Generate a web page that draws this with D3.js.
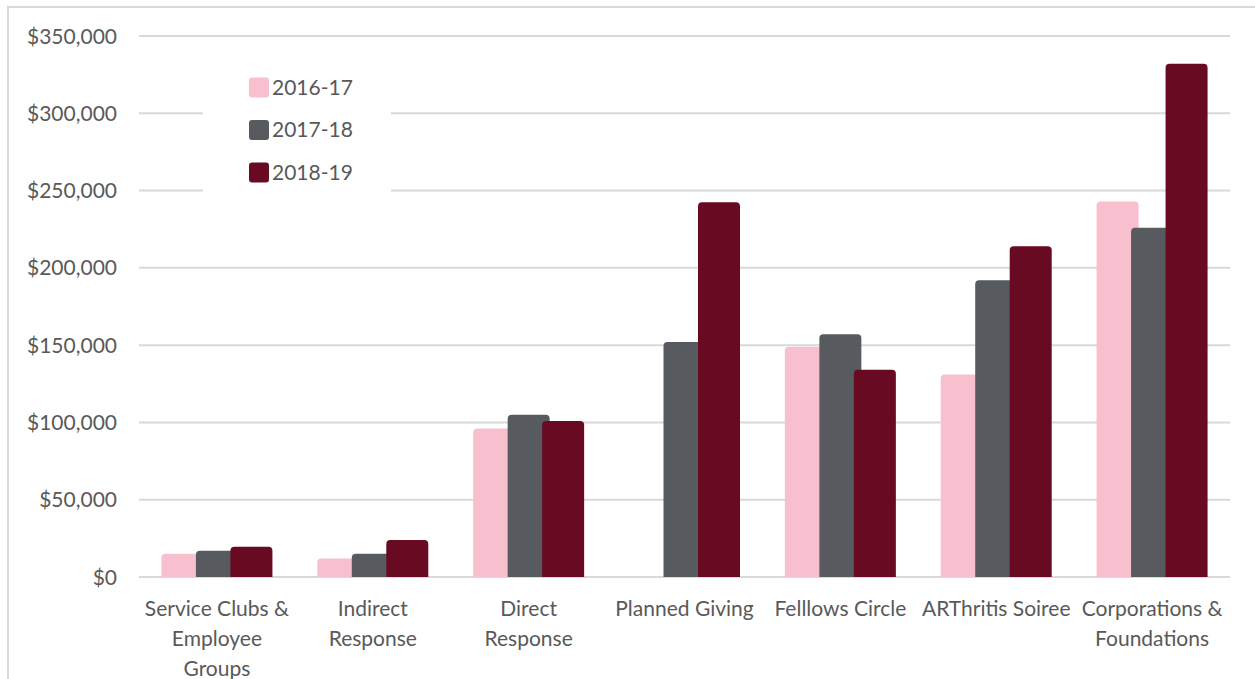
<!DOCTYPE html>
<html><head><meta charset="utf-8">
<script src="https://cdn.jsdelivr.net/npm/d3@7"></script>
<style>html,body{margin:0;padding:0;background:#fff;}svg{display:block;}</style>
</head><body>
<svg id="chart" width="1255" height="679"></svg>
<script>
const categories = ["Service Clubs & Employee Groups","Indirect Response","Direct Response","Planned Giving","Felllows Circle","ARThritis Soiree","Corporations & Foundations"];
const categoryLines = [["Service Clubs &","Employee","Groups"],["Indirect","Response"],["Direct","Response"],["Planned Giving"],["Felllows Circle"],["ARThritis Soiree"],["Corporations &","Foundations"]];
const seriesNames = ["2016-17","2017-18","2018-19"];
const v2016 = [15000, 12000, 96000, 0, 149000, 131000, 243000];
const v2017 = [17000, 15000, 105000, 152000, 157000, 192000, 226000];
const v2018 = [19500, 24000, 101000, 242500, 134000, 214000, 332000];
const yTicks = [0, 50000, 100000, 150000, 200000, 250000, 300000, 350000];
const colors = ["#F8C0CF", "#575B5F", "#680A22"];

const series = [v2016, v2017, v2018];
const svg = d3.select("#chart");
const font = "Lato, 'Open Sans', sans-serif";
const textColor = "#595959";

// outer border
svg.append("rect").attr("x", 8).attr("y", 7).attr("width", 1260).attr("height", 690)
  .attr("fill", "#fff").attr("stroke", "#D9D9D9").attr("stroke-width", 2);

const x = d3.scaleBand().domain(categories).range([139, 1230]).padding(0);
const y = d3.scaleLinear().domain([0, 350000]).range([577, 36]);

// gridlines
svg.append("g").selectAll("line").data(yTicks).join("line")
  .attr("x1", 139).attr("x2", 1230)
  .attr("y1", d => y(d)).attr("y2", d => y(d))
  .attr("stroke", "#D9D9D9").attr("stroke-width", 2);

// y axis labels
const yAxis = d3.axisLeft(y).tickValues(yTicks).tickSize(0).tickPadding(0)
  .tickFormat(d => "$" + d3.format(",")(d));
const yg = svg.append("g").attr("transform", "translate(117,0)").call(yAxis);
yg.select(".domain").remove();
yg.selectAll("text").attr("font-family", font).attr("font-size", 21).attr("fill", textColor).attr("dy", "0.34em");

// legend white background
svg.append("rect").attr("x", 203).attr("y", 58).attr("width", 188).attr("height", 142).attr("fill", "#fff");

// bars
const step = 34.5, bw = 42, r = 4;
function barPath(x0, y0, w, h) {
  if (h <= 0) return "";
  const rr = Math.min(r, h);
  return `M${x0},${y0 + h} L${x0},${y0 + rr} Q${x0},${y0} ${x0 + rr},${y0} L${x0 + w - rr},${y0} Q${x0 + w},${y0} ${x0 + w},${y0 + rr} L${x0 + w},${y0 + h} Z`;
}
series.forEach((vals, si) => {
  svg.append("g").selectAll("path").data(vals).join("path")
    .attr("fill", colors[si])
    .attr("d", (v, i) => {
      const c = x(categories[i]) + x.bandwidth() / 2;
      const x0 = c - 55.5 + si * step;
      return barPath(x0, y(v), bw, y(0) - y(v));
    });
});

// x labels
const xl = svg.append("g");
categories.forEach((c, i) => {
  const cx = x(c) + x.bandwidth() / 2;
  const t = xl.append("text").attr("x", cx).attr("y", 616)
    .attr("text-anchor", "middle").attr("font-family", font).attr("font-size", 21).attr("fill", textColor);
  categoryLines[i].forEach((ln, li) => {
    t.append("tspan").attr("x", cx).attr("dy", li === 0 ? 0 : 30).text(ln);
  });
});

// legend
const lg = svg.append("g");
seriesNames.forEach((n, i) => {
  const cy = 87.5 + i * 42.5;
  lg.append("rect").attr("x", 249).attr("y", cy - 10).attr("width", 20).attr("height", 20)
    .attr("rx", 3).attr("fill", colors[i]);
  lg.append("text").attr("x", 272).attr("y", cy).attr("dy", "0.35em")
    .attr("font-family", font).attr("font-size", 21).attr("fill", textColor).text(n);
});
</script>
</body></html>
